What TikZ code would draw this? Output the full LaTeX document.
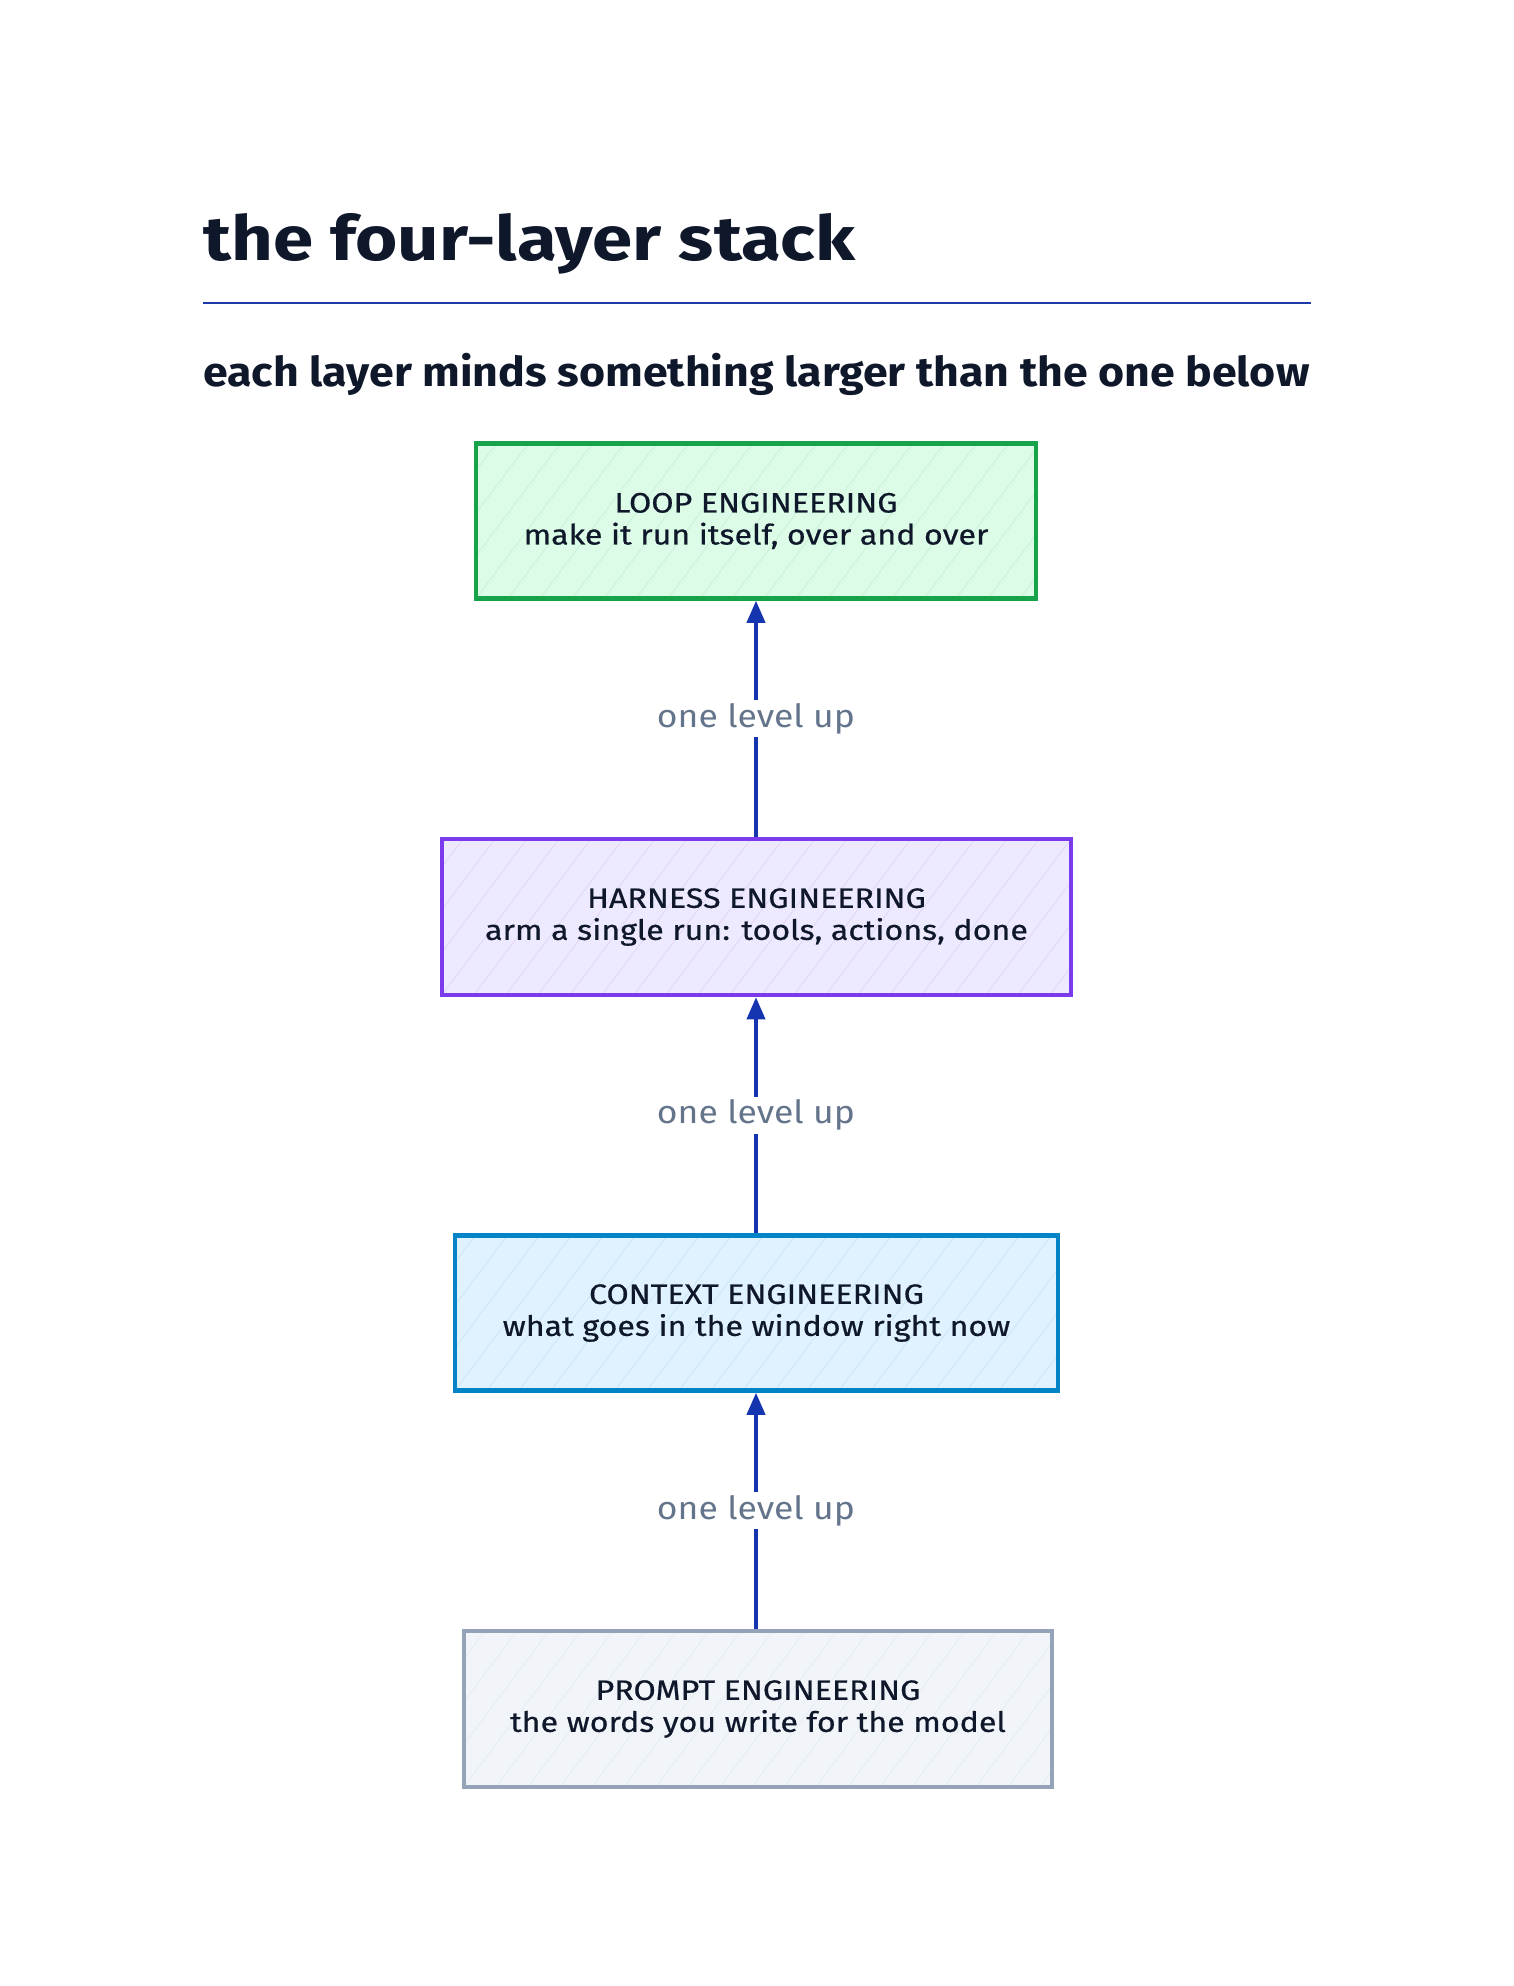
\documentclass[tikz,border=0pt]{standalone}
\usepackage{fontspec}
\setmainfont{Fira Sans}
\newfontfamily\titlefont{Fira Sans}[FakeStretch=1.17]
\newfontfamily\subfont{Fira Sans}[FakeStretch=1.09]
\newfontfamily\boxfont{Fira Sans}[FakeStretch=1.15, FakeBold=0.6]
\newfontfamily\lblfont{Fira Sans}[FakeStretch=1.11]
\usetikzlibrary{arrows.meta}
\definecolor{ink}{HTML}{0F172A}
\definecolor{rule}{HTML}{1E3AA8}
\definecolor{arrowc}{HTML}{1434B0}
\definecolor{labelc}{HTML}{64748B}
\definecolor{gS}{HTML}{16A34A}\definecolor{gF}{HTML}{DCFCE7}
\definecolor{pS}{HTML}{7C3AED}\definecolor{pF}{HTML}{EDE9FE}
\definecolor{bS}{HTML}{0284C7}\definecolor{bF}{HTML}{E0F2FE}
\definecolor{sS}{HTML}{94A3B8}\definecolor{sF}{HTML}{F1F5F9}
\tikzset{
  layer/.style n args={2}{draw=#1, fill=#2, line width=4.5pt, rectangle,
    align=center, text=ink, font=\boxfont\fontsize{28}{32}\selectfont,
    path picture={\foreach \k in {-6,...,22}{
      \draw[#1, opacity=0.10, line width=0.8pt]
        ([xshift=\k*32pt]path picture bounding box.south west) -- ++(120pt,160pt);}}},
  uparrow/.style={draw=arrowc, line width=3.8pt, -{Triangle[length=22pt,width=18pt]}},
  lvl/.style={fill=white, text=labelc, font=\lblfont\fontsize{32}{36}\selectfont, inner sep=3pt},
}
\begin{document}
\begin{tikzpicture}[x=1pt,y=-1pt]
\useasboundingbox (0,0) rectangle (1514,1986);
\fill[white] (0,0) rectangle (1514,1986);
\node[anchor=base west, text=ink, font=\titlefont\fontsize{62}{68}\selectfont\bfseries, inner sep=0pt] (title) at (203,260) {the four-layer stack};
\coordinate (r1) at (203,303);
\coordinate (r2) at (1311,303);
\draw[rule, line width=1.6pt] (r1) -- (r2);
\node[anchor=base west, text=ink, font=\subfont\fontsize{41}{46}\selectfont\bfseries, inner sep=0pt] (sub) at (203,386) {each layer minds something larger than the one below};

\node[layer={gS}{gF}, minimum width=560pt, minimum height=155pt] (loop) at (756,521) {LOOP ENGINEERING\\make it run itself, over and over};
\node[layer={pS}{pF}, minimum width=629pt, minimum height=156pt] (harness) at (756.5,917) {HARNESS ENGINEERING\\arm a single run: tools, actions, done};
\node[layer={bS}{bF}, minimum width=603pt, minimum height=155pt] (context) at (756.5,1313) {CONTEXT ENGINEERING\\what goes in the window right now};
\node[layer={sS}{sF}, minimum width=588pt, minimum height=156pt] (prompt) at (758,1709) {PROMPT ENGINEERING\\the words you write for the model};

\draw[uparrow] (harness.north -| loop.south) -- node[lvl] (l1) {one level up} (loop.south);
\draw[uparrow] (context.north -| loop.south) -- node[lvl] (l2) {one level up} (harness.south -| loop.south);
\draw[uparrow] (prompt.north -| loop.south) -- node[lvl] (l3) {one level up} (context.south -| loop.south);
\end{tikzpicture}
\end{document}
